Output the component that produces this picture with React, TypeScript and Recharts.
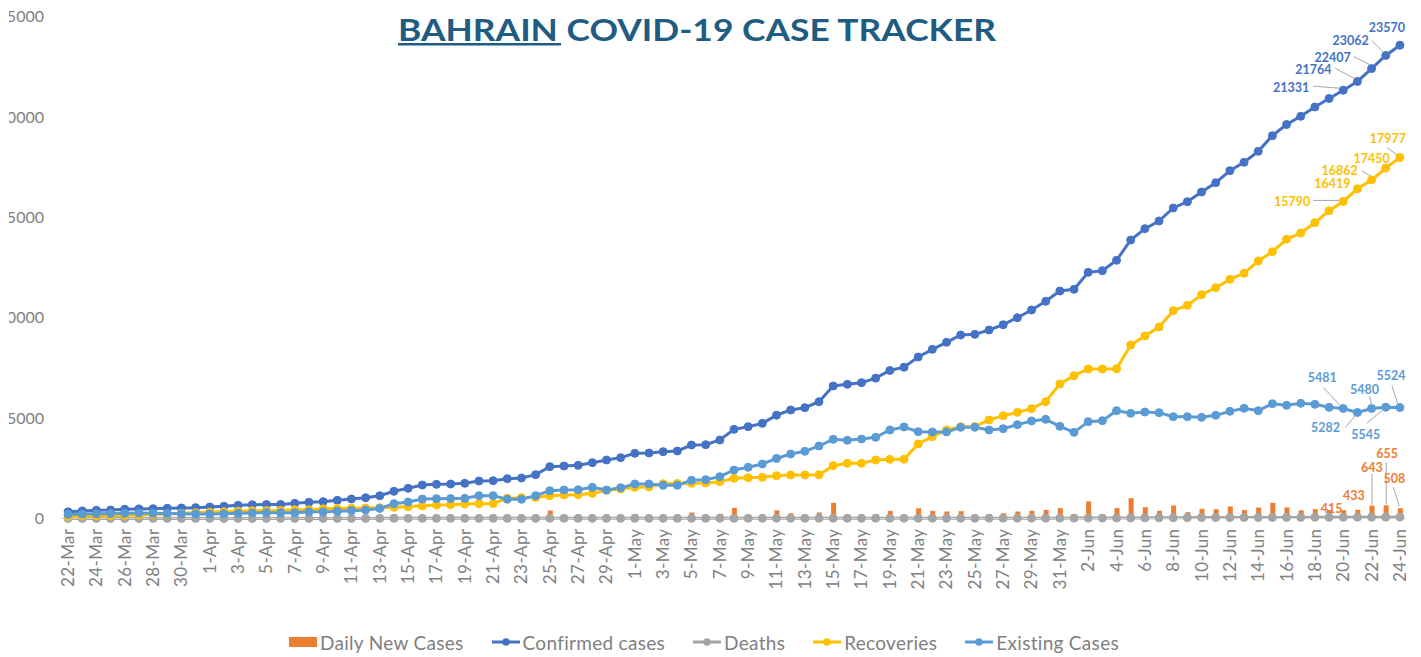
import React from 'react';
import { ComposedChart, Bar, Line, XAxis, YAxis, Legend, LabelList } from 'recharts';

const dates = [
  '22-Mar', '23-Mar', '24-Mar', '25-Mar', '26-Mar', '27-Mar', '28-Mar', '29-Mar', '30-Mar', '31-Mar',
  '1-Apr', '2-Apr', '3-Apr', '4-Apr', '5-Apr', '6-Apr', '7-Apr', '8-Apr', '9-Apr', '10-Apr',
  '11-Apr', '12-Apr', '13-Apr', '14-Apr', '15-Apr', '16-Apr', '17-Apr', '18-Apr', '19-Apr', '20-Apr',
  '21-Apr', '22-Apr', '23-Apr', '24-Apr', '25-Apr', '26-Apr', '27-Apr', '28-Apr', '29-Apr', '30-Apr',
  '1-May', '2-May', '3-May', '4-May', '5-May', '6-May', '7-May', '8-May', '9-May', '10-May',
  '11-May', '12-May', '13-May', '14-May', '15-May', '16-May', '17-May', '18-May', '19-May', '20-May',
  '21-May', '22-May', '23-May', '24-May', '25-May', '26-May', '27-May', '28-May', '29-May', '30-May',
  '31-May', '1-Jun', '2-Jun', '3-Jun', '4-Jun', '5-Jun', '6-Jun', '7-Jun', '8-Jun', '9-Jun',
  '10-Jun', '11-Jun', '12-Jun', '13-Jun', '14-Jun', '15-Jun', '16-Jun', '17-Jun', '18-Jun', '19-Jun',
  '20-Jun', '21-Jun', '22-Jun', '23-Jun', '24-Jun',
];

const dailyNew = [
  30, 42, 31, 18, 35, 15, 15, 20, 15, 17,
  33, 35, 49, 30, 8, 5, 57, 50, 30, 69,
  65, 65, 99, 219, 150, 164, 33, 17, 33, 117,
  16, 100, 33, 166, 399, 33, 32, 134, 133, 116,
  216, 16, 67, 33, 298, 17, 232, 531, 133, 166,
  407, 257, 116, 299, 781, 83, 83, 225, 380, 165,
  508, 382, 349, 364, 33, 216, 265, 348, 383, 432,
  515, 83, 848, 80, 517, 1011, 564, 383, 647, 314,
  483, 464, 598, 417, 546, 780, 555, 409, 464, 423,
  415, 433, 643, 655, 508,
];

const confirmed = [
  332, 374, 405, 423, 458, 473, 488, 508, 523, 540,
  573, 608, 657, 687, 695, 700, 757, 807, 837, 906,
  971, 1036, 1135, 1354, 1504, 1668, 1701, 1718, 1751, 1868,
  1884, 1984, 2017, 2183, 2582, 2615, 2647, 2781, 2914, 3030,
  3246, 3262, 3329, 3362, 3660, 3677, 3909, 4440, 4573, 4739,
  5146, 5403, 5519, 5818, 6599, 6682, 6765, 6990, 7370, 7535,
  8043, 8425, 8774, 9138, 9171, 9387, 9652, 10000, 10383, 10815,
  11330, 11413, 12261, 12341, 12858, 13869, 14433, 14816, 15463, 15777,
  16260, 16724, 17322, 17739, 18285, 19065, 19620, 20029, 20493, 20916,
  21331, 21764, 22407, 23062, 23570,
];

const deaths = [
  2, 2, 2, 4, 4, 4, 4, 4, 4, 4,
  4, 4, 4, 4, 4, 4, 5, 5, 5, 6,
  6, 6, 7, 7, 7, 7, 7, 7, 7, 7,
  7, 7, 7, 8, 8, 8, 8, 8, 8, 8,
  8, 8, 8, 8, 8, 8, 9, 10, 10, 10,
  12, 12, 12, 12, 12, 12, 12, 12, 12, 12,
  12, 13, 14, 14, 14, 14, 15, 15, 16, 18,
  18, 19, 20, 22, 26, 28, 31, 34, 38, 42,
  46, 48, 50, 51, 52, 53, 54, 56, 58, 59,
  60, 63, 65, 67, 69,
];

const recoveries = [
  100, 120, 130, 140, 160, 170, 200, 230, 260, 290,
  320, 340, 360, 380, 390, 400, 434, 440, 480, 500,
  510, 525, 540, 560, 590, 630, 672, 689, 722, 739,
  745, 1004, 1038, 1050, 1137, 1170, 1187, 1253, 1402, 1469,
  1552, 1570, 1735, 1745, 1751, 1768, 1834, 2000, 2033, 2050,
  2133, 2166, 2170, 2180, 2631, 2747, 2750, 2913, 2946, 2950,
  3710, 4075, 4407, 4573, 4580, 4905, 5121, 5287, 5470, 5818,
  6698, 7113, 7445, 7450, 7460, 8640, 9090, 9537, 10349, 10616,
  11147, 11495, 11910, 12210, 12823, 13288, 13905, 14218, 14731, 15329,
  15790, 16419, 16862, 17450, 17977,
];

const existing = [
  200, 220, 240, 250, 260, 270, 260, 250, 240, 230,
  230, 240, 260, 280, 290, 290, 290, 330, 330, 360,
  390, 420, 500, 740, 820, 970, 988, 990, 1004, 1137,
  1137, 955, 955, 1137, 1386, 1419, 1430, 1552, 1419, 1535,
  1718, 1718, 1652, 1652, 1901, 1934, 2083, 2415, 2549, 2714,
  2990, 3212, 3345, 3611, 3943, 3893, 3959, 4042, 4407, 4557,
  4324, 4308, 4310, 4540, 4545, 4407, 4474, 4673, 4856, 4939,
  4590, 4291, 4822, 4872, 5370, 5237, 5304, 5270, 5071, 5071,
  5038, 5138, 5337, 5486, 5370, 5718, 5635, 5735, 5685, 5536,
  5481, 5282, 5480, 5545, 5524,
];

const yTicks = [0, 5000, 10000, 15000, 20000, 25000];

const COLORS = {
  daily: '#ED7D31',
  confirmed: '#4472C4',
  deaths: '#A5A5A5',
  recoveries: '#FFC000',
  existing: '#5B9BD5',
};

const data = dates.map((date, i) => ({
  date,
  daily: dailyNew[i],
  confirmed: confirmed[i],
  deaths: deaths[i],
  recoveries: recoveries[i],
  existing: existing[i],
}));

// where each data label sits relative to its point, plus optional leader line
type Tag = { dx: number; dy: number; line?: [number, number, number, number] };

const confirmedTags: Record<number, Tag> = {
  90: { dx: -52, dy: -3, line: [-30, -4, -4, -2] },
  91: { dx: -44, dy: -12, line: [-22, -13, -3, -3] },
  92: { dx: -39, dy: -11, line: [-18, -12, -2, -4] },
  93: { dx: -35, dy: -15, line: [-14, -15, -3, -4] },
  94: { dx: -13, dy: -18 },
};
const recoveryTags: Record<number, Tag> = {
  90: { dx: -51, dy: 0, line: [-30, -1, -4, -1] },
  91: { dx: -25, dy: -5 },
  92: { dx: -32, dy: -9, line: [-10, -9, -1, -4] },
  93: { dx: -14, dy: -10 },
  94: { dx: -12, dy: -19, line: [-13, -10, -2, -2] },
};
const existingTags: Record<number, Tag> = {
  90: { dx: -21, dy: -31, line: [-20, -21, -3, -3] },
  91: { dx: -32, dy: 15, line: [-12, 15, -2, 3] },
  92: { dx: -7, dy: -19, line: [-2, -12, 0, -3] },
  93: { dx: -20, dy: 27, line: [-19, 16, -2, 2] },
  94: { dx: -9, dy: -32, line: [-8, -22, -2, -3] },
};
const dailyTags: Record<number, Tag> = {
  90: { dx: -12, dy: -2 },
  91: { dx: -4, dy: -14 },
  92: { dx: 0, dy: -38, line: [0, -32, 0, -1] },
  93: { dx: 1, dy: -52, line: [0, -43, 0, -1] },
  94: { dx: -6, dy: -30, line: [-7, -21, -1, -2] },
};

const makeTag = (tags: Record<number, Tag>, color: string) => (props: any) => {
  const tag = tags[props.index];
  if (!tag) return null;
  const vb = props.viewBox || {};
  const w = props.width ?? vb.width ?? 0;
  const px = (props.x ?? vb.x) + w / 2;
  const py = props.y ?? vb.y;
  return (
    <g key={`tag-${props.index}`}>
      {tag.line && (
        <line
          x1={px + tag.line[0]}
          y1={py + tag.line[1]}
          x2={px + tag.line[2]}
          y2={py + tag.line[3]}
          stroke="#A6A6A6"
          strokeWidth={1}
        />
      )}
      <text
        x={px + tag.dx}
        y={py + tag.dy}
        textAnchor="middle"
        dominantBaseline="central"
        fill={color}
        fontSize={12.5}
        fontWeight={700}
        fontFamily="Lato, sans-serif"
      >
        {props.value}
      </text>
    </g>
  );
};

const DateTick = (props: any) => {
  const { x, y, payload } = props;
  return (
    <g transform={`translate(${x},${y})`}>
      <text
        transform="rotate(-90)"
        textAnchor="end"
        dy="0.35em"
        fill="#808080"
        fontSize={17}
        letterSpacing={0.4}
        fontFamily="Lato, sans-serif"
      >
        {payload.value}
      </text>
    </g>
  );
};

const legendItems = [
  { label: 'Daily New Cases', color: COLORS.daily, bar: true },
  { label: 'Confirmed cases', color: COLORS.confirmed },
  { label: 'Deaths', color: COLORS.deaths },
  { label: 'Recoveries', color: COLORS.recoveries },
  { label: 'Existing Cases', color: COLORS.existing },
];

const ChartLegend = () => (
  <div
    style={{
      height: 30,
      display: 'flex',
      justifyContent: 'center',
      alignItems: 'center',
      fontFamily: 'Lato, sans-serif',
      fontSize: 19,
      letterSpacing: 0.3,
      color: '#808080',
      gap: 28,
    }}
  >
    {legendItems.map((it) => (
      <div key={it.label} style={{ display: 'flex', alignItems: 'center', gap: 3 }}>
        <svg width={28} height={12}>
          {it.bar ? (
            <rect x={0} y={1} width={28} height={10} fill={it.color} />
          ) : (
            <>
              <line x1={0} y1={6} x2={28} y2={6} stroke={it.color} strokeWidth={3} />
              <circle cx={14} cy={6} r={3.8} fill={it.color} />
            </>
          )}
        </svg>
        <span>{it.label}</span>
      </div>
    ))}
  </div>
);

const dot = (c: string) => ({ r: 4, fill: c, stroke: c, strokeWidth: 1 });

export default function App() {
  return (
    <div style={{ position: 'absolute', left: 0, top: 0, width: 1421, height: 657, background: '#fff' }}>
      {/* the reference image is cropped a few pixels inside the chart's own frame */}
      <div style={{ position: 'absolute', left: 9, top: 0, width: 1397, height: 657, overflow: 'hidden' }}>
        <div style={{ position: 'relative', left: -9 }}>
          <ComposedChart
            width={1408}
            height={657}
            data={data}
            margin={{ top: 16.5, right: 1, bottom: 28.5, left: 0 }}
          >
            <XAxis
              dataKey="date"
              interval={1}
              height={80}
              tickLine={false}
              tickMargin={4}
              axisLine={{ stroke: '#D9D9D9' }}
              tick={<DateTick />}
            />
            <YAxis
              width={61}
              domain={[0, 25000]}
              ticks={yTicks}
              axisLine={false}
              tickLine={false}
              tickMargin={11}
              tick={{ fill: '#808080', fontSize: 16, fontFamily: 'Lato, sans-serif' }}
            />
            <Legend content={<ChartLegend />} wrapperStyle={{ bottom: 0, left: 0, width: 1408 }} />
            <Bar dataKey="daily" name="Daily New Cases" fill={COLORS.daily} barSize={5} isAnimationActive={false}>
              <LabelList dataKey="daily" content={makeTag(dailyTags, COLORS.daily)} />
            </Bar>
            <Line
              dataKey="confirmed"
              name="Confirmed cases"
              stroke={COLORS.confirmed}
              strokeWidth={3}
              dot={dot(COLORS.confirmed)}
              isAnimationActive={false}
            >
              <LabelList dataKey="confirmed" content={makeTag(confirmedTags, COLORS.confirmed)} />
            </Line>
            <Line
              dataKey="deaths"
              name="Deaths"
              stroke={COLORS.deaths}
              strokeWidth={3}
              dot={dot(COLORS.deaths)}
              isAnimationActive={false}
            />
            <Line
              dataKey="recoveries"
              name="Recoveries"
              stroke={COLORS.recoveries}
              strokeWidth={3}
              dot={dot(COLORS.recoveries)}
              isAnimationActive={false}
            >
              <LabelList dataKey="recoveries" content={makeTag(recoveryTags, COLORS.recoveries)} />
            </Line>
            <Line
              dataKey="existing"
              name="Existing Cases"
              stroke={COLORS.existing}
              strokeWidth={3}
              dot={dot(COLORS.existing)}
              isAnimationActive={false}
            >
              <LabelList dataKey="existing" content={makeTag(existingTags, COLORS.existing)} />
            </Line>
          </ComposedChart>
        </div>
      </div>
      <svg width={1421} height={60} style={{ position: 'absolute', left: 0, top: 0, pointerEvents: 'none' }}>
        <text
          x={398}
          y={41}
          textLength={598}
          lengthAdjust="spacingAndGlyphs"
          fill="#1F5C82"
          fontSize={31}
          fontWeight={700}
          fontFamily="Lato, sans-serif"
        >
          BAHRAIN COVID-19 CASE TRACKER
        </text>
        <rect x={398} y={43} width={163} height={2.5} fill="#1F5C82" />
      </svg>
    </div>
  );
}
